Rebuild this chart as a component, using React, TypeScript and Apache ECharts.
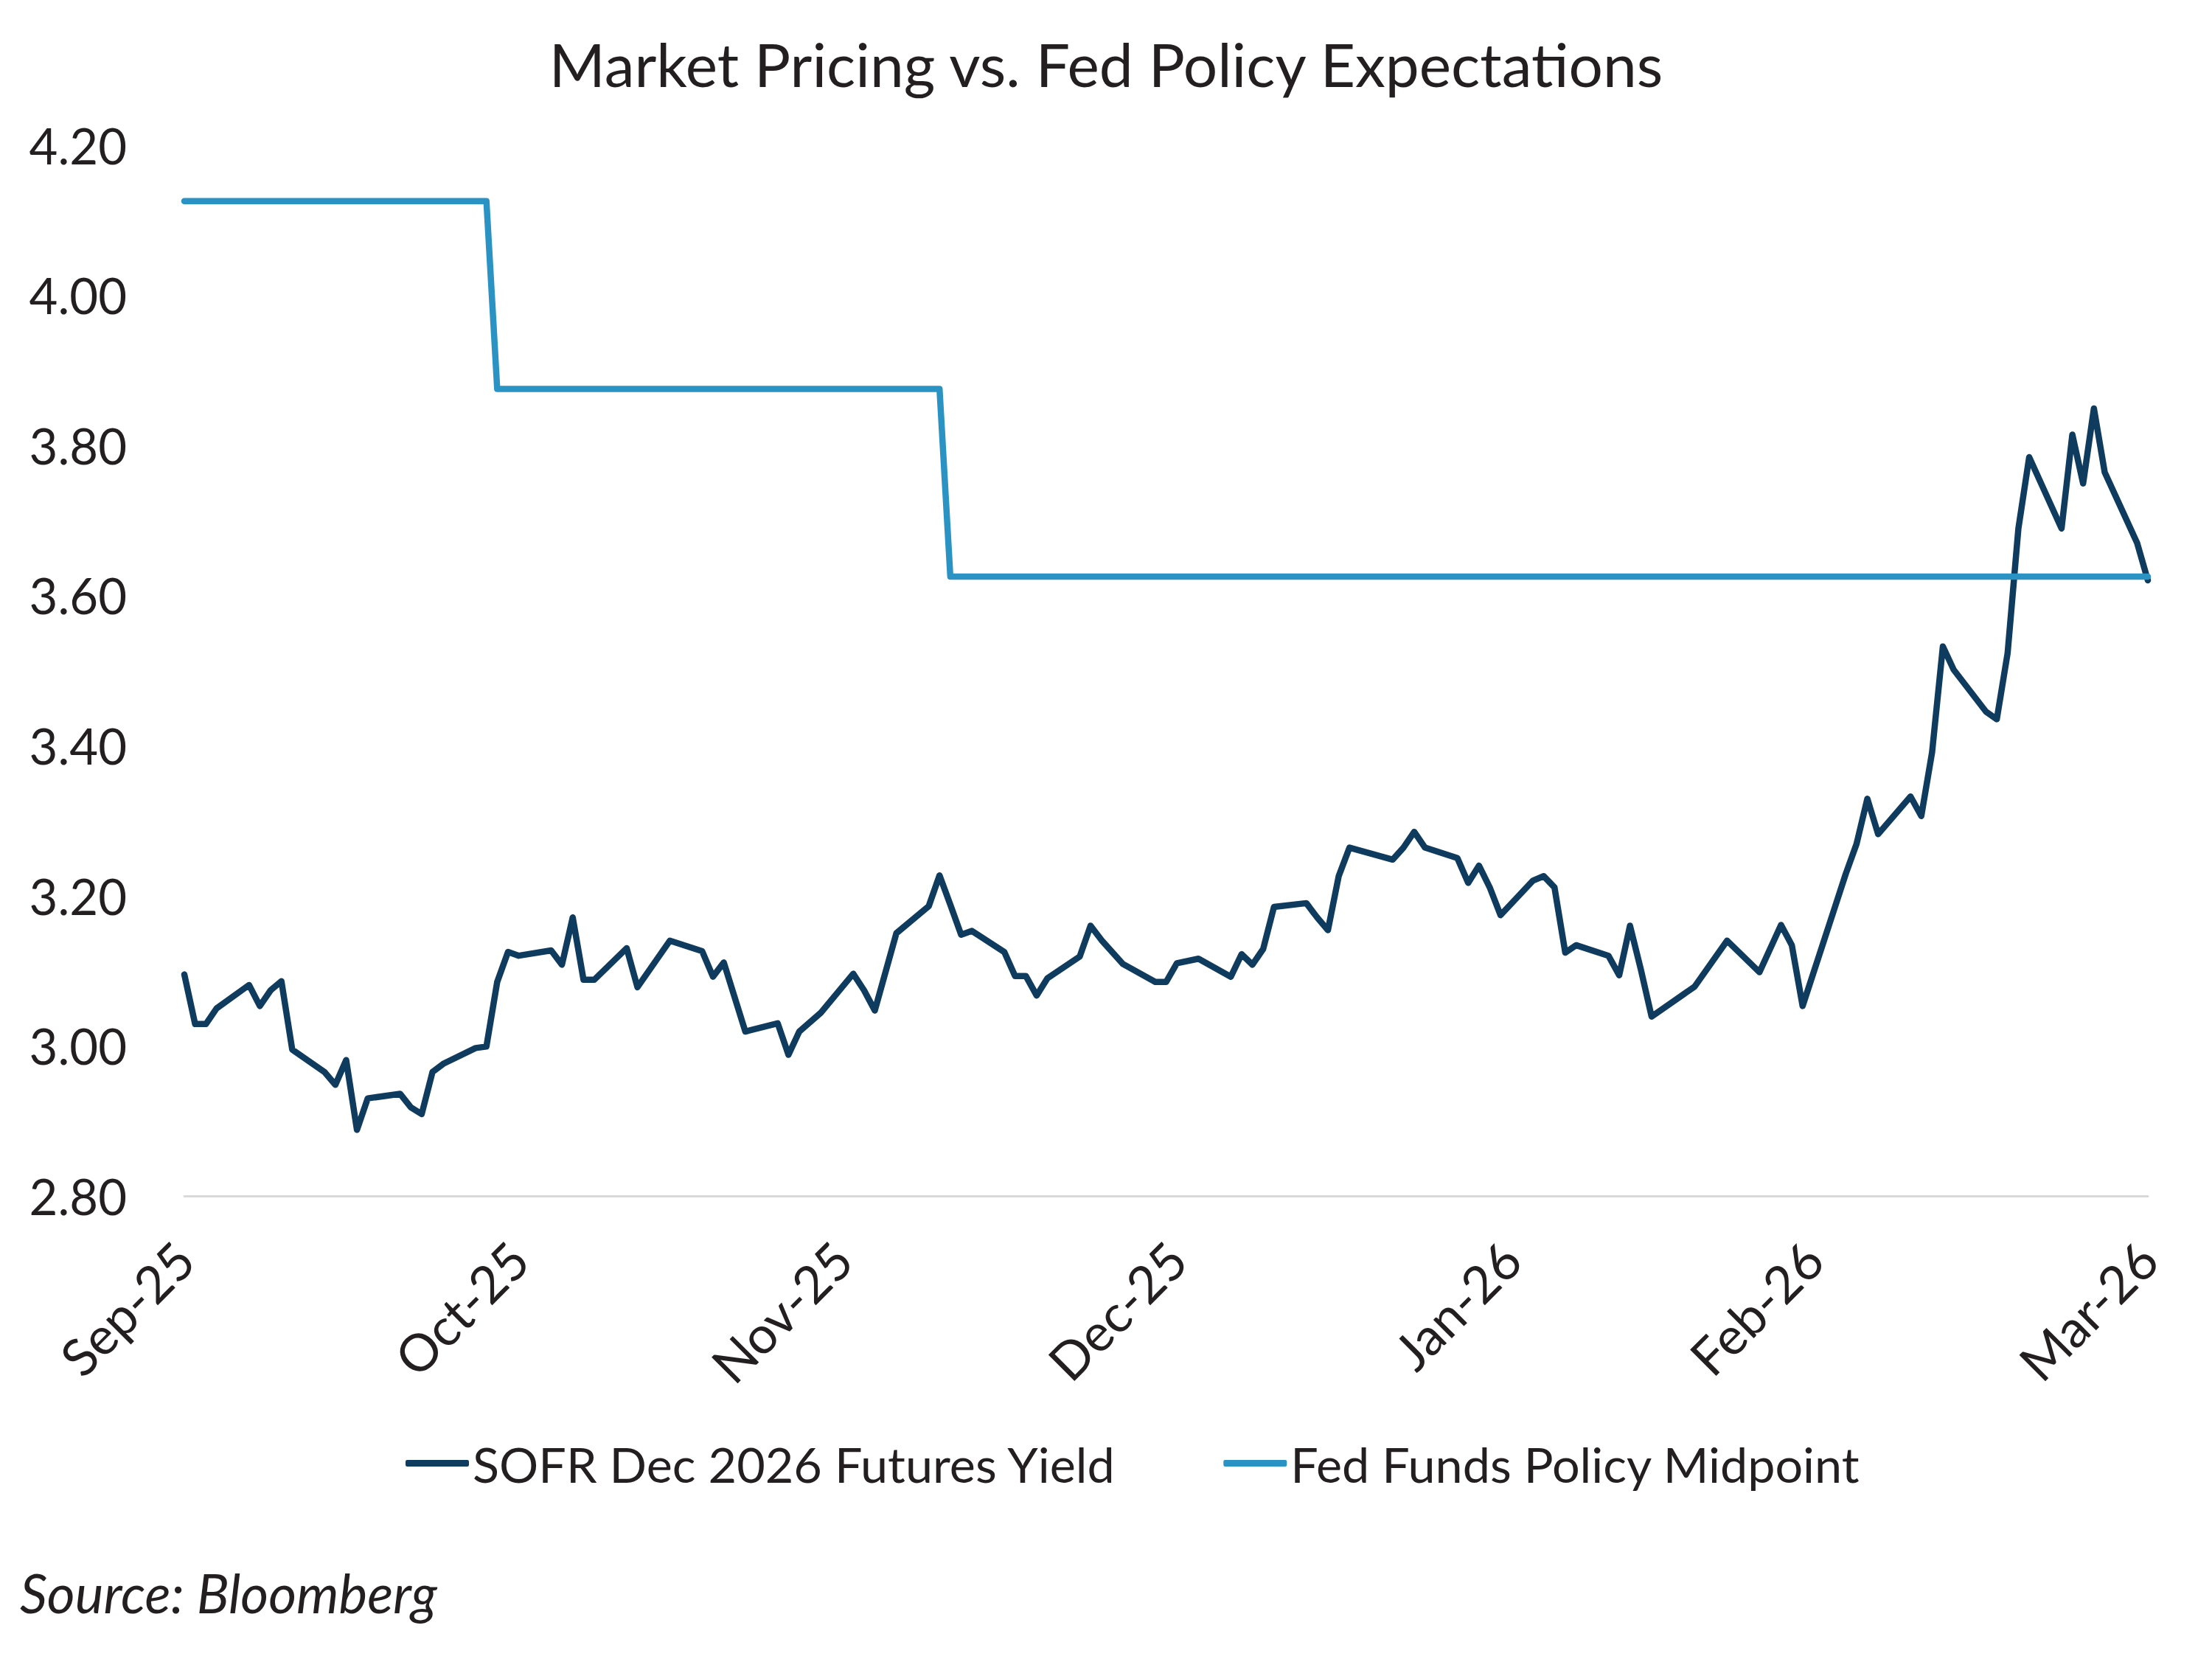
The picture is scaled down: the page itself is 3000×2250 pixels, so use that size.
import React, { useEffect, useRef } from "react";
import * as echarts from "echarts";

// ---- Data ----
const sofrDates = [
  "2025-09-30", "2025-10-01", "2025-10-02", "2025-10-03", "2025-10-06", "2025-10-07", "2025-10-08", "2025-10-09",
  "2025-10-10", "2025-10-13", "2025-10-14", "2025-10-15", "2025-10-16", "2025-10-17", "2025-10-20", "2025-10-21",
  "2025-10-22", "2025-10-23", "2025-10-24", "2025-10-27", "2025-10-28", "2025-10-29", "2025-10-30", "2025-10-31",
  "2025-11-03", "2025-11-04", "2025-11-05", "2025-11-06", "2025-11-07", "2025-11-10", "2025-11-11", "2025-11-14",
  "2025-11-17", "2025-11-18", "2025-11-19", "2025-11-21", "2025-11-24", "2025-11-25", "2025-11-26", "2025-11-28",
  "2025-12-01", "2025-12-02", "2025-12-03", "2025-12-05", "2025-12-08", "2025-12-09", "2025-12-10", "2025-12-11",
  "2025-12-12", "2025-12-15", "2025-12-16", "2025-12-17", "2025-12-18", "2025-12-19", "2025-12-22", "2025-12-23",
  "2025-12-24", "2025-12-26", "2025-12-29", "2025-12-30", "2025-12-31", "2026-01-02", "2026-01-05", "2026-01-06",
  "2026-01-07", "2026-01-08", "2026-01-09", "2026-01-12", "2026-01-13", "2026-01-14", "2026-01-15", "2026-01-16",
  "2026-01-20", "2026-01-21", "2026-01-22", "2026-01-23", "2026-01-26", "2026-01-27", "2026-01-28", "2026-01-29",
  "2026-01-30", "2026-02-02", "2026-02-03", "2026-02-04", "2026-02-05", "2026-02-06", "2026-02-09", "2026-02-10",
  "2026-02-11", "2026-02-12", "2026-02-13", "2026-02-17", "2026-02-20", "2026-02-23", "2026-02-25", "2026-02-26",
  "2026-02-27", "2026-03-02", "2026-03-03", "2026-03-04", "2026-03-05", "2026-03-06", "2026-03-09", "2026-03-10",
  "2026-03-11", "2026-03-12", "2026-03-13", "2026-03-16", "2026-03-17", "2026-03-18", "2026-03-19", "2026-03-20",
  "2026-03-23", "2026-03-24", "2026-03-25", "2026-03-26", "2026-03-27", "2026-03-30", "2026-03-31",
];
const sofrValues = [
  3.095, 3.029, 3.029, 3.050, 3.081, 3.053, 3.074, 3.086,
  2.995, 2.965, 2.948, 2.981, 2.888, 2.930, 2.936, 2.918,
  2.909, 2.965, 2.976, 2.997, 2.999, 3.085, 3.125, 3.120,
  3.127, 3.108, 3.171, 3.088, 3.088, 3.130, 3.078, 3.140,
  3.126, 3.092, 3.111, 3.019, 3.030, 2.988, 3.019, 3.044,
  3.096, 3.074, 3.047, 3.150, 3.186, 3.227, 3.188, 3.148,
  3.153, 3.125, 3.093, 3.093, 3.067, 3.090, 3.119, 3.160,
  3.141, 3.109, 3.085, 3.085, 3.110, 3.116, 3.092, 3.122,
  3.108, 3.129, 3.185, 3.190, 3.171, 3.154, 3.226, 3.264,
  3.248, 3.264, 3.285, 3.264, 3.250, 3.217, 3.240, 3.211,
  3.174, 3.220, 3.226, 3.211, 3.124, 3.134, 3.120, 3.094,
  3.160, 3.102, 3.039, 3.079, 3.140, 3.098, 3.161, 3.134,
  3.053, 3.185, 3.229, 3.269, 3.329, 3.282, 3.332, 3.306,
  3.391, 3.532, 3.501, 3.445, 3.435, 3.523, 3.689, 3.784,
  3.689, 3.814, 3.749, 3.849, 3.764, 3.670, 3.620,
];
const fedDates = ["2025-09-30", "2025-10-28", "2025-10-29", "2025-12-09", "2025-12-10", "2026-03-31"];
const fedValues = [4.125, 4.125, 3.875, 3.875, 3.625, 3.625];

const xTickDates = ["2025-09-30", "2025-10-31", "2025-11-30", "2025-12-31", "2026-01-31", "2026-02-28", "2026-03-31"];
const xTickLabels = ["Sep-25", "Oct-25", "Nov-25", "Dec-25", "Jan-26", "Feb-26", "Mar-26"];

const yMin = 2.8;
const yMax = 4.2;
const yStep = 0.2;

const titleText = "Market Pricing vs. Fed Policy Expectations";
const sourceText = "Source: Bloomberg";
const seriesNames = ["SOFR Dec 2026 Futures Yield", "Fed Funds Policy Midpoint"];

const DAY = 86400000;
const utc = (d: string) => {
  const [y, m, dd] = d.split("-").map(Number);
  return Date.UTC(y, m - 1, dd);
};
const origin = utc(xTickDates[0]);
const dayNum = (d: string) => Math.round((utc(d) - origin) / DAY);

export default function App() {
  const ref = useRef<HTMLDivElement>(null);

  useEffect(() => {
    if (!ref.current) return;
    const chart = echarts.init(ref.current, undefined, { renderer: "svg" });
    const tickDays = xTickDates.map(dayNum);
    const font = "Lato";
    const textColor = "#231f20";

    chart.setOption({
      animation: false,
      backgroundColor: "#ffffff",
      textStyle: { fontFamily: font },
      title: [
        {
          text: titleText,
          left: "center",
          top: 40,
          textStyle: { fontFamily: font, fontSize: 82, fontWeight: "normal", color: textColor },
        },
        {
          text: sourceText,
          left: 22,
          top: 2118,
          textStyle: { fontFamily: font, fontSize: 73, fontWeight: "normal", fontStyle: "italic", color: textColor },
        },
      ],
      legend: {
        left: 545,
        top: 1946,
        itemWidth: 86,
        itemHeight: 9,
        itemGap: 145,
        icon: "roundRect",
        textStyle: { fontFamily: font, fontSize: 66.5, color: textColor },
        data: seriesNames,
      },
      grid: { left: 250, right: 87, top: 196.5, bottom: 628, containLabel: false },
      xAxis: {
        type: "value",
        min: tickDays[0],
        max: tickDays[tickDays.length - 1],
        axisLine: { show: true, onZero: false, lineStyle: { color: "#d9d9d9", width: 3 } },
        axisTick: { show: false },
        splitLine: { show: false },
        axisLabel: {
          customValues: tickDays,
          rotate: 45,
          margin: 74,
          hideOverlap: false,
          showMinLabel: true,
          showMaxLabel: true,
          fontFamily: font,
          fontSize: 70,
          color: textColor,
          formatter: (v: number) => {
            const i = tickDays.indexOf(Math.round(v));
            return i >= 0 ? xTickLabels[i] : "";
          },
        },
      },
      yAxis: {
        type: "value",
        min: yMin,
        max: yMax,
        interval: yStep,
        axisLine: { show: false },
        axisTick: { show: false },
        splitLine: { show: false },
        axisLabel: {
          margin: 78,
          fontFamily: font,
          fontSize: 67,
          color: textColor,
          formatter: (v: number) => v.toFixed(2),
        },
      },
      series: [
        {
          name: seriesNames[0],
          type: "line",
          showSymbol: false,
          symbol: "none",
          data: sofrDates.map((d, i) => [dayNum(d), sofrValues[i]]),
          lineStyle: { color: "#0f3b5f", width: 8.5, cap: "round", join: "round" },
          itemStyle: { color: "#0f3b5f" },
        },
        {
          name: seriesNames[1],
          type: "line",
          showSymbol: false,
          symbol: "none",
          data: fedDates.map((d, i) => [dayNum(d), fedValues[i]]),
          lineStyle: { color: "#2b93c4", width: 8.5, cap: "round", join: "round" },
          itemStyle: { color: "#2b93c4" },
        },
      ],
    });

    return () => chart.dispose();
  }, []);

  return (
    <div
      ref={ref}
      style={{ position: "absolute", left: 0, top: 0, width: 3000, height: 2250, background: "#fff" }}
    />
  );
}
